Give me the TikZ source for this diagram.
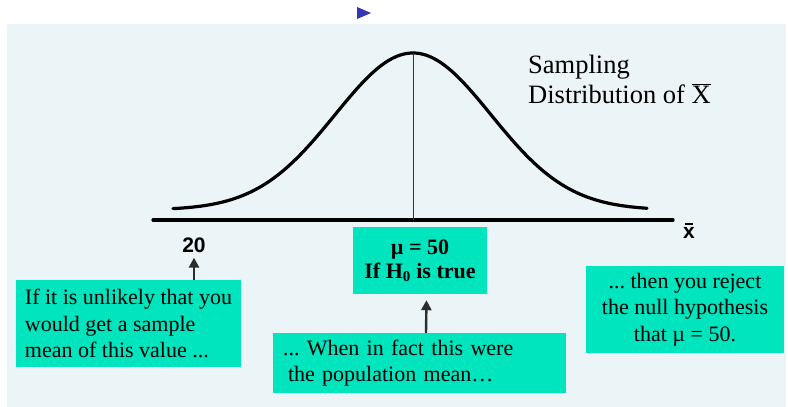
\documentclass[tikz,border=0pt]{standalone}
\usepackage{fontspec}
\setmainfont{Liberation Serif}
\newfontfamily\arialfont{Liberation Sans}
\usetikzlibrary{arrows.meta,calc}
\definecolor{panel}{RGB}{235,244,246}
\definecolor{aqua}{RGB}{0,229,190}
\definecolor{tri}{RGB}{53,53,181}
\definecolor{arrgray}{RGB}{45,45,45}
\frenchspacing
\begin{document}
\begin{tikzpicture}[x=1pt,y=-1pt,
  greenbox/.style={fill=aqua, draw=none, inner sep=0pt, font=\fontsize{22}{26.5}\selectfont},
  upArrow/.style={draw=arrgray, line width=2.4pt, -{Triangle[length=10pt,width=10pt]}},
  thick axis/.style={line width=3.2pt, line cap=round}]
\useasboundingbox (0,0) rectangle (788,407);
\fill[panel] (7,24) rectangle (786,407);
\fill[tri] (357,7) -- (371,13) -- (357,19) -- cycle;
% curve and axis
\draw[thick axis, line join=round] plot[domain=173:647, samples=160, smooth] (\x, {210 - 157*exp(-0.5*((\x-413)/78)^2)});
\coordinate (axL) at (153,220);
\coordinate (axR) at (673,220);
\coordinate (peak) at (413,53);
\draw[thick axis] (axL) -- (axR);
\draw[line width=1pt, black!80] (peak) -- (peak |- axL);
% labels
\node[anchor=west, align=left, inner sep=0pt, font=\fontsize{26.5}{30}\selectfont] (title) at (528,79) {Sampling\\Distribution of $\overline{\mbox{X}}$};
\node[inner sep=0pt, font=\arialfont\bfseries\fontsize{21}{24}\selectfont] (xbar) at (689,231) {x\llap{\rule[13.5pt]{8.5pt}{1.8pt}\hspace{1.6pt}}};
\node[inner sep=0pt, font=\arialfont\bfseries\fontsize{21}{24}\selectfont] (t20) at (194,245) {20};
% boxes
\node[greenbox, minimum width=225pt, minimum height=87pt, align=left] (box1) at (128.5,323.5)
  {If it is unlikely that you\\would get a sample\\mean of this value ...};
\node[greenbox, minimum width=134pt, minimum height=67pt, align=center, font=\bfseries\fontsize{22}{24}\selectfont] (mubox) at (420,260.5)
  {$\mbox{\bfseries\textmu}$ = 50\\If H$_{\mbox{\fontsize{15}{15}\selectfont\bfseries 0}}$ is true};
\node[greenbox, minimum height=60pt, text width=273pt, inner xsep=10pt, align=left] (box2) at (419.5,363)
  {... When in fact this were\\\hspace{5pt}the population mean\ldots};
\node[greenbox, minimum width=198pt, minimum height=87pt, align=center] (box3) at (685,309.5)
  {... then you reject\\the null hypothesis\\that \textmu{} = 50.};
% arrows
\draw[upArrow] (box1.north -| t20) -- ([yshift=-5pt]t20.south);
\draw[upArrow] ($(box2.north)+(6.5,0)$) -- ($(mubox.south)+(6.5,6)$);
\end{tikzpicture}
\end{document}
